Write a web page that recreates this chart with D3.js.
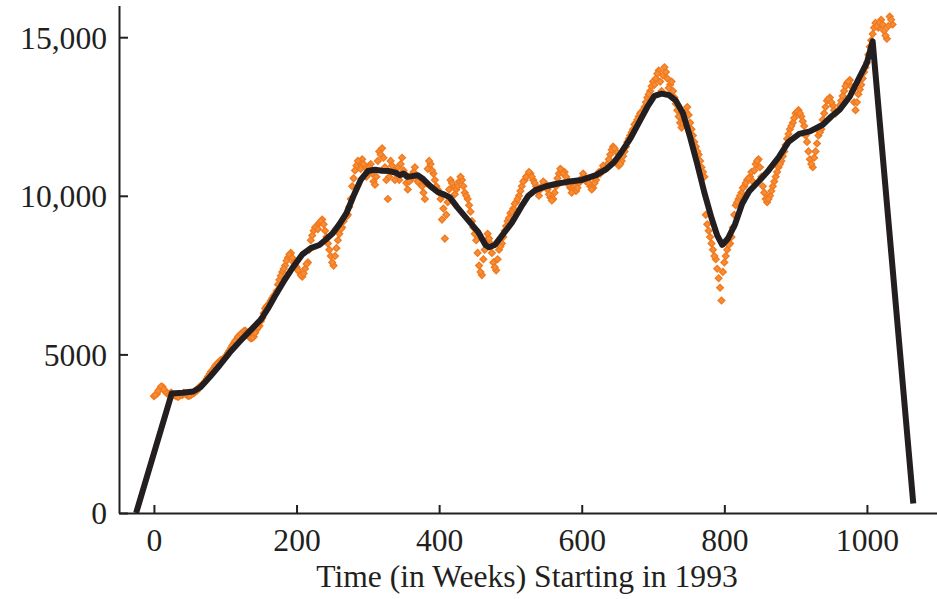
<!DOCTYPE html>
<html>
<head>
<meta charset="utf-8">
<script src="https://cdn.jsdelivr.net/npm/d3@7"></script>
<style>
  body { margin: 0; background: #fff; }
  svg { display: block; }
  .axis text { font-family: "Liberation Serif", "Times New Roman", serif; font-size: 31px; fill: #231f20; }
  .title { font-family: "Liberation Serif", "Times New Roman", serif; font-size: 31px; fill: #231f20; }
</style>
</head>
<body>
<div class="chart"></div>
<script>
// weekly observations: obsValues at weeks 0, 4, 8, ...; obsValuesMid at weeks 2, 6, 10, ...
var obsStep = 4;
var obsValues = [
  3680, 3750, 3900, 3980, 3820, 3760, 3800, 3720, 3680, 3700,
  3720, 3760, 3690, 3720, 3780, 3850, 3980, 4050, 4150, 4300,
  4450, 4560, 4700, 4780, 4840, 4900, 5050, 5200, 5350, 5480,
  5600, 5680, 5750, 5620, 5500, 5560, 5780, 5900, 6150, 6450,
  6550, 6700, 6850, 7000, 7350, 7600, 7800, 8050, 8200, 7900,
  7750, 7600, 7450, 7700, 7900, 8600, 8900, 9050, 9150, 9250,
  8900, 8500, 8100, 7800, 8350, 8800, 9000, 9300, 9400, 9900,
  10550, 10950, 11050, 11150, 10900, 10700, 11000, 10450, 10600, 11400,
  11500, 10900, 9900, 11100, 10800, 10700, 10500, 11200, 10700, 10200,
  10500, 10750, 10600, 10400, 10300, 9900, 10850, 11000, 10700, 10300,
  10100, 9250, 8650, 9800, 10500, 10300, 10200, 10450, 10500, 10100,
  9900, 9500, 9000, 8600, 7800, 7500, 8300, 8800, 8500, 7900,
  7650, 8300, 8500, 8900, 9200, 9450, 9600, 9800, 10000, 10300,
  10500, 10650, 10700, 10500, 10300, 10000, 10300, 10400, 10200, 9950,
  9900, 10300, 10700, 10800, 10750, 10500, 10250, 10200, 10150, 10400,
  10550, 10600, 10500, 10300, 10250, 10500, 10750, 10800, 10900, 11000,
  11300, 11550, 11400, 10950, 11100, 11400, 11700, 11900, 12100, 12300,
  12500, 12650, 12800, 13100, 13300, 13600, 13700, 13950, 13300, 14050,
  13700, 13500, 13300, 12900, 12500, 12150, 12400, 12800, 12300, 11900,
  11550, 11300, 10900, 10600, 9100, 8700, 8300, 8000, 7400, 6700,
  7900, 8300, 8500, 9000, 9700, 9900, 10100, 10300, 10500, 10600,
  10450, 11000, 11150, 10600, 10100, 9800, 10000, 10300, 10600, 10900,
  11100, 11400, 11800, 12100, 12300, 12600, 12700, 12500, 12200, 11700,
  11150, 10900, 11400, 11900, 12100, 12600, 13000, 13100, 12850, 12600,
  12700, 13000, 13300, 13550, 13650, 13300, 12700, 13200, 13500, 13900,
  14200, 14700, 15100, 15450, 15300, 15550, 15200, 14950, 15650, 15400
];
var obsValuesMid = [
  3720, 3850, 3990, 3900, 3780, 3740, 3760, 3700, 3660, 3730,
  3790, 3720, 3700, 3760, 3820, 3930, 4010, 4100, 4230, 4380,
  4500, 4640, 4720, 4830, 4860, 4980, 5120, 5280, 5420, 5560,
  5650, 5730, 5700, 5540, 5520, 5680, 5850, 6050, 6300, 6520,
  6620, 6780, 6900, 7200, 7480, 7700, 7950, 8150, 8050, 7800,
  7650, 7500, 7550, 7850, 8300, 8750, 9000, 8950, 9200, 9100,
  8700, 8300, 7900, 8100, 8600, 8950, 9200, 9350, 9650, 10300,
  10800, 11100, 10850, 11000, 10600, 10900, 10700, 10350, 11100, 11300,
  11200, 10500, 10600, 10950, 10500, 10900, 11000, 10800, 10400, 10450,
  10650, 10900, 10450, 10550, 10100, 10400, 11100, 10800, 10500, 10200,
  9900, 9600, 9400, 10200, 10400, 10050, 10300, 10600, 10300, 10000,
  9700, 9200, 8800, 8200, 7600, 8000, 8600, 8650, 8200, 7750,
  8000, 8400, 8700, 9050, 9300, 9500, 9750, 9900, 10150, 10450,
  10600, 10750, 10600, 10400, 10150, 10200, 10450, 10300, 10050, 9850,
  10100, 10550, 10850, 10700, 10600, 10350, 10100, 10300, 10250, 10500,
  10700, 10450, 10400, 10200, 10400, 10650, 10700, 10950, 10850, 11150,
  11450, 11500, 11150, 11000, 11250, 11550, 11800, 12000, 12250, 12400,
  12600, 12700, 12950, 13200, 13450, 13500, 13850, 13600, 13800, 13900,
  13400, 13600, 13100, 12700, 12300, 12300, 12650, 12550, 12100, 11700,
  11400, 11100, 10750, 9400, 8900, 8500, 8100, 7700, 7100, 7600,
  8100, 8450, 8700, 9400, 9800, 10000, 10250, 10400, 10550, 10750,
  10800, 11100, 10900, 10300, 9900, 9900, 10150, 10450, 10750, 11000,
  11250, 11600, 11950, 12200, 12450, 12650, 12600, 12350, 11900, 11400,
  11000, 11200, 11650, 12000, 12400, 12800, 13050, 12950, 12700, 12650,
  12850, 13150, 13450, 13600, 13450, 12950, 12950, 13350, 13700, 14050,
  14450, 14900, 15300, 15350, 15450, 15400, 15050, 15350, 15550
];

// smoothed series (black line)
var smoothWeeks = [
  -25, 25, 40, 55, 65, 78, 92, 106, 120, 135,
  150, 160, 170, 182, 195, 208, 220, 232, 240, 250,
  260, 270, 280, 290, 300, 310, 320, 330, 340, 345,
  350, 355, 362, 370, 378, 388, 398, 408, 415, 425,
  440, 455, 465, 470, 478, 490, 502, 515, 525, 535,
  550, 565, 580, 600, 620, 635, 645, 655, 668, 680,
  692, 702, 712, 722, 732, 742, 752, 762, 772, 782,
  790, 797, 805, 815, 825, 835, 848, 862, 877, 890,
  905, 920, 938, 950, 962, 976, 990, 1000, 1008, 1065
];
var smoothValues = [
  0, 3770, 3790, 3830, 3960, 4280, 4650, 5050, 5400, 5750,
  6100, 6450, 6850, 7300, 7750, 8150, 8350, 8450, 8600, 8800,
  9100, 9450, 10000, 10500, 10780, 10820, 10790, 10780, 10720, 10650,
  10700, 10600, 10620, 10650, 10520, 10300, 10120, 10030, 9950, 9650,
  9250, 8850, 8450, 8380, 8450, 8800, 9150, 9650, 10000, 10180,
  10300, 10380, 10440, 10500, 10650, 10850, 11050, 11350, 11800, 12300,
  12800, 13150, 13220, 13180, 13000, 12600, 11850, 11000, 10100, 9300,
  8750, 8450, 8650, 9100, 9750, 10150, 10450, 10800, 11240, 11700,
  11950, 12030, 12240, 12500, 12720, 13130, 13760, 14200, 14870, 300
];

var xTicks = [0, 200, 400, 600, 800, 1000];
var yTicks = [0, 5000, 10000, 15000];
var xTitle = "Time (in Weeks) Starting in 1993";

var fullWidth = 937;
var fullHeight = 599;
var stretch = 1.02; // type in the original is set a touch wide

var ink = "#231f20";
var orange = "#f27a1f";

var svg = d3
  .select(".chart")
  .append("svg")
  .attr("width", fullWidth)
  .attr("height", fullHeight);

var xScale = d3
  .scaleLinear()
  .domain([-49, 1100])
  .range([119, 119 + 1149 * 0.713]);

var yScale = d3
  .scaleLinear()
  .domain([0, 16000])
  .range([513, 513 - 16000 * 0.03172]);

var obs = obsValues
  .map((v, i) => ({ week: i * obsStep, value: v }))
  .concat(obsValuesMid.map((v, i) => ({ week: i * obsStep + obsStep / 2, value: v })));
var smooth = smoothWeeks.map((w, i) => ({ week: w, value: smoothValues[i] }));

// axes, ticks point inward
var xAxis = svg
  .append("g")
  .attr("class", "axis")
  .attr("transform", `translate(0, ${yScale(0)})`)
  .call(
    d3.axisBottom(xScale)
      .tickValues(xTicks)
      .tickFormat(d3.format("d"))
      .tickSizeInner(-8)
      .tickSizeOuter(0)
      .tickPadding(0)
  );

xAxis.selectAll("text")
  .attr("y", 0)
  .attr("dy", null)
  .attr("transform", `translate(0, 38) scale(${stretch}, 1)`);

var yAxis = svg
  .append("g")
  .attr("class", "axis")
  .attr("transform", `translate(${xScale.range()[0]}, 0)`)
  .call(
    d3.axisLeft(yScale)
      .tickValues(yTicks)
      .tickFormat(d => (d >= 10000 ? d3.format(",")(d) : String(d)))
      .tickSizeInner(-9)
      .tickSizeOuter(0)
      .tickPadding(0)
  );

yAxis.selectAll("text")
  .attr("x", 0)
  .attr("transform", `translate(-12, 1) scale(${stretch}, 1)`);

svg.selectAll(".axis path, .axis line")
  .attr("stroke", ink)
  .attr("stroke-width", 2);

// scatter of weekly values
var diamond = d3.symbol().type(d3.symbolSquare).size(22);

svg
  .append("g")
  .selectAll("path")
  .data(obs)
  .enter()
  .append("path")
  .attr("d", diamond)
  .attr("transform", d => `translate(${xScale(d.week)}, ${yScale(d.value)}) rotate(45)`)
  .attr("fill", "#f58e38")
  .attr("stroke", orange)
  .attr("stroke-width", 1.4);

// smoothed line
var line = d3
  .line()
  .x(d => xScale(d.week))
  .y(d => yScale(d.value));

svg
  .append("path")
  .datum(smooth)
  .attr("d", line)
  .attr("fill", "none")
  .attr("stroke", ink)
  .attr("stroke-width", 6)
  .attr("stroke-linejoin", "round");

svg
  .append("text")
  .attr("class", "title")
  .attr("text-anchor", "middle")
  .attr("transform", `translate(527, 587) scale(${stretch}, 1)`)
  .text(xTitle);
</script>
</body>
</html>
